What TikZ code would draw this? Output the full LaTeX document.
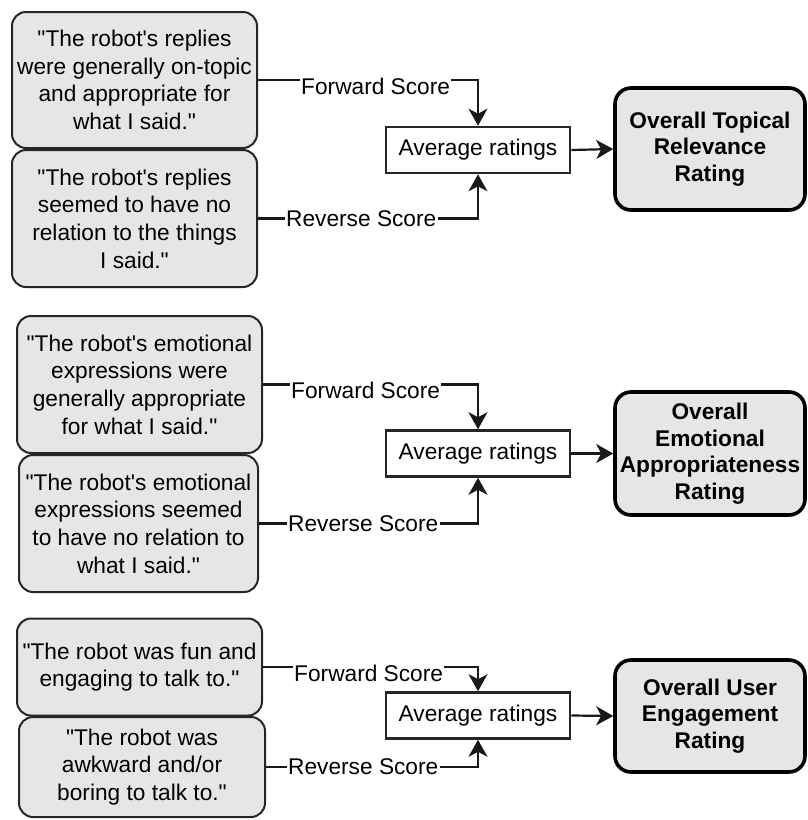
\documentclass[tikz,border=0pt]{standalone}
\usepackage{fontspec}
\setmainfont{Liberation Sans}[Ligatures=TeXOff]
\usetikzlibrary{arrows.meta}
\definecolor{boxgray}{HTML}{E6E6E6}
\begin{document}
\begin{tikzpicture}[x=1pt,y=-1pt,
  every node/.style={font=\fontsize{22.7}{27.6}\selectfont},
  qbox/.style={draw=black!85, line width=2pt, fill=boxgray, rounded corners=14pt, inner sep=0pt, align=center},
  avgbox/.style={draw=black!85, line width=2.6pt, fill=white, minimum width=184pt, minimum height=46pt, inner sep=0pt},
  resbox/.style={draw=black, line width=3.6pt, fill=boxgray, rounded corners=16pt, align=center, inner sep=0pt, minimum width=190pt, font=\bfseries\fontsize{22.7}{26.5}\selectfont},
  lbl/.style={inner sep=1pt, anchor=west},
  conn/.style={draw=black!90, line width=2.2pt},
  arr/.style={conn, -{Stealth[length=17pt,width=19pt,inset=5pt]}}
]
\useasboundingbox (0,0) rectangle (807,820);

% ---------- Group 1 ----------
\node[qbox, minimum width=245pt, minimum height=136pt] (A1) at (134.5,80)
  {"The robot's replies\\were generally on-topic\\and appropriate for\\what I said."};
\node[qbox, minimum width=245pt, minimum height=137pt] (A2) at (134.5,218.5)
  {"The robot's replies\\seemed to have no\\relation to the things\\I said."};
\node[avgbox] (V1) at (478,150) {Average ratings};
\node[resbox, minimum height=122pt] (R1) at (710,149)
  {Overall Topical\\Relevance\\Rating};
\node[lbl, yshift=-6pt] (F1) at ([xshift=42pt]A1.east) {Forward Score};
\node[lbl] (B1) at ([xshift=27pt]A2.east) {Reverse Score};
\draw[conn] (A1.east) -- (A1.east -| F1.west);
\draw[arr] (A1.east -| F1.east) -| (V1.north);
\draw[conn] (A2.east) -- (B1.west);
\draw[arr] (B1.east) -| (V1.south);
\draw[arr] (V1.east) -- (R1.west);

% ---------- Group 2 ----------
\node[qbox, minimum width=245pt, minimum height=137pt] (C1) at (139.5,384.5)
  {"The robot's emotional\\expressions were\\generally appropriate\\for what I said."};
\node[qbox, minimum width=239pt, minimum height=137pt] (C2) at (138.5,523.5)
  {"The robot's emotional\\expressions seemed\\to have no relation to\\what I said."};
\node[avgbox] (V2) at (478,453.5) {Average ratings};
\node[resbox, minimum height=123pt] (R2) at (710,453.5)
  {Overall\\Emotional\\Appropriateness\\Rating};
\node[lbl, yshift=-6pt] (F2) at ([xshift=27pt]C1.east) {Forward Score};
\node[lbl] (B2) at ([xshift=28pt]C2.east) {Reverse Score};
\draw[conn] (C1.east) -- (C1.east -| F2.west);
\draw[arr] (C1.east -| F2.east) -| (V2.north);
\draw[conn] (C2.east) -- (B2.west);
\draw[arr] (B2.east) -| (V2.south);
\draw[arr] (V2.east) -- (R2.west);

% ---------- Group 3 ----------
\node[qbox, minimum width=245pt, minimum height=97pt] (E1) at (139.5,667)
  {"The robot was fun and\\engaging to talk to."};
\node[qbox, minimum width=246pt, minimum height=100pt] (E2) at (142,767)
  {"The robot was\\awkward and/or\\boring to talk to."};
\node[avgbox] (V3) at (478,715.5) {Average ratings};
\node[resbox, minimum height=112pt] (R3) at (710,716)
  {Overall User\\Engagement\\Rating};
\node[lbl, yshift=-6pt] (F3) at ([xshift=30pt]E1.east) {Forward Score};
\node[lbl] (B3) at ([xshift=21pt]E2.east) {Reverse Score};
\draw[conn] (E1.east) -- (E1.east -| F3.west);
\draw[arr] (E1.east -| F3.east) -| (V3.north);
\draw[conn] (E2.east) -- (B3.west);
\draw[arr] (B3.east) -| (V3.south);
\draw[arr] (V3.east) -- (R3.west);
\end{tikzpicture}
\end{document}
